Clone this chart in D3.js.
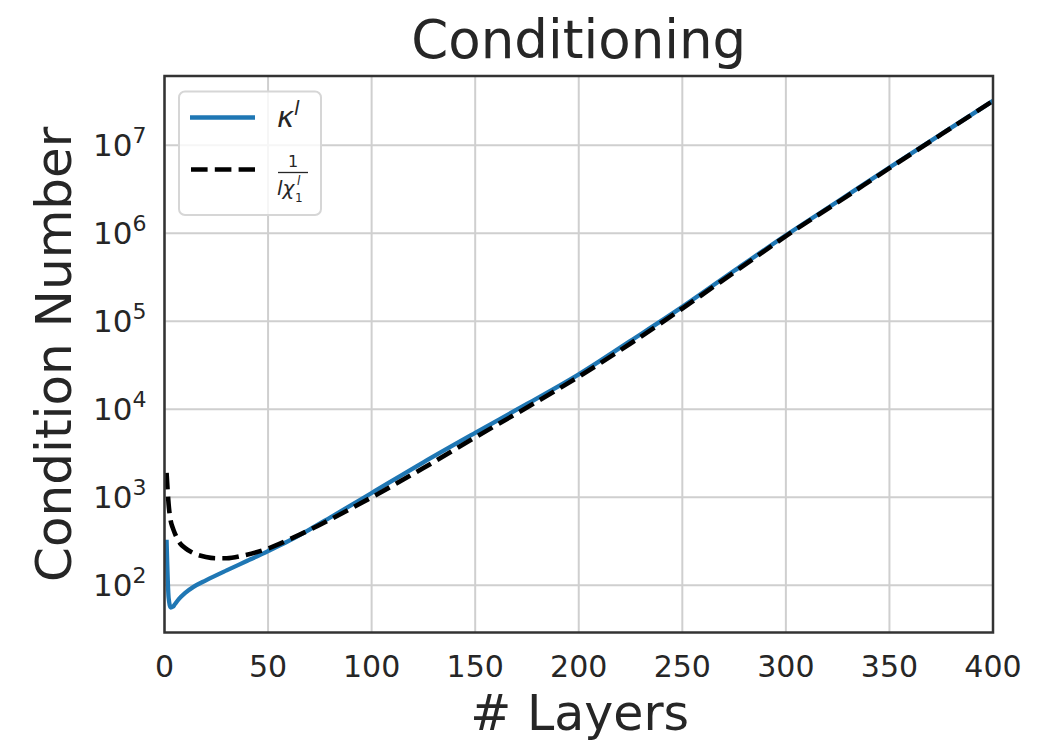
<!DOCTYPE html>
<html>
<head>
<meta charset="utf-8">
<script src="https://cdn.jsdelivr.net/npm/d3@7"></script>
<style>
  body { margin: 0; background: #fff; }
  text { font-family: 'DejaVu Sans', sans-serif; fill: #262626; }
</style>
</head>
<body>
<svg id="viz"></svg>
<script>
// values
const layersKappa = [1, 2, 3, 4, 5, 7, 10, 14, 20, 30, 40, 50, 60, 70, 80, 100, 125, 150, 175, 200, 225, 250, 275, 300, 325, 350, 375, 400];
const kappa = [330, 72, 56, 57, 61, 70, 82, 96, 114, 148, 190, 245, 320, 430, 590, 1120, 2500, 5400, 11500, 25000, 60000, 146000, 375000, 950000, 2.3e6, 5.6e6, 1.34e7, 3.2e7];
const layersChi = [1, 2, 3, 4, 5, 7.5, 10, 14, 20, 25, 30, 38, 50, 60, 70, 80, 100, 125, 150, 175, 200, 225, 250, 275, 300, 325, 350, 375, 400];
const chiInv = [1900, 830, 540, 450, 390, 300, 265, 232, 210, 203, 203, 218, 262, 330, 425, 560, 1000, 2150, 4800, 10500, 23500, 56000, 140000, 360000, 930000, 2.25e6, 5.5e6, 1.33e7, 3.2e7];
const xTicks = [0, 50, 100, 150, 200, 250, 300, 350, 400];
const yExponents = [2, 3, 4, 5, 6, 7];

const W = 1055, H = 743;
const margin = { left: 164.5, right: 62, top: 76, bottom: 110.5 };
const width = W - margin.left - margin.right;
const height = H - margin.top - margin.bottom;

const svg = d3.select('#viz').attr('width', W).attr('height', H);
const g = svg.append('g').attr('transform', 'translate(' + margin.left + ',' + margin.top + ')');

const x = d3.scaleLinear().domain([0, 400]).range([0, width]);
const y = d3.scaleLog().domain([Math.pow(10, 1.464), Math.pow(10, 7.788)]).range([height, 0]);

// grid
g.append('g')
  .selectAll('line')
  .data(xTicks)
  .join('line')
  .attr('x1', (d) => x(d)).attr('x2', (d) => x(d))
  .attr('y1', 0).attr('y2', height)
  .attr('stroke', '#cfcfcf').attr('stroke-width', 2);

g.append('g')
  .selectAll('line')
  .data(yExponents)
  .join('line')
  .attr('x1', 0).attr('x2', width)
  .attr('y1', (d) => y(Math.pow(10, d))).attr('y2', (d) => y(Math.pow(10, d)))
  .attr('stroke', '#cfcfcf').attr('stroke-width', 2);

// curves
svg.append('clipPath').attr('id', 'clip')
  .append('rect').attr('width', width).attr('height', height);

const line = d3.line()
  .x((d) => x(d[0]))
  .y((d) => y(d[1]))
  .curve(d3.curveMonotoneX);

const plot = g.append('g').attr('clip-path', 'url(#clip)');

plot.append('path')
  .datum(layersKappa.map((l, i) => [l, kappa[i]]))
  .attr('d', line)
  .attr('fill', 'none')
  .attr('stroke', '#1f77b4')
  .attr('stroke-width', 4.3);

plot.append('path')
  .datum(layersChi.map((l, i) => [l, chiInv[i]]))
  .attr('d', line)
  .attr('fill', 'none')
  .attr('stroke', '#000')
  .attr('stroke-width', 4.6)
  .attr('stroke-dasharray', '16.6,7.2');

// frame
g.append('rect')
  .attr('width', width).attr('height', height)
  .attr('fill', 'none')
  .attr('stroke', '#333')
  .attr('stroke-width', 2.5);

// tick labels
g.append('g')
  .selectAll('text')
  .data(xTicks)
  .join('text')
  .attr('x', (d) => x(d))
  .attr('y', height + 44.5)
  .attr('text-anchor', 'middle')
  .attr('font-size', 30)
  .text((d) => d);

const yl = g.append('g')
  .selectAll('text')
  .data(yExponents)
  .join('text')
  .attr('x', -18)
  .attr('y', (d) => y(Math.pow(10, d)) + 11)
  .attr('text-anchor', 'end')
  .attr('font-size', 31);
yl.append('tspan').text('10');
yl.append('tspan').attr('dy', -13).attr('font-size', 22).text((d) => d);

// axis titles
svg.append('text')
  .attr('x', margin.left + width / 2)
  .attr('y', 58)
  .attr('text-anchor', 'middle')
  .attr('font-size', 53)
  .text('Conditioning');

svg.append('text')
  .attr('x', margin.left + width / 2 + 1)
  .attr('y', 730)
  .attr('text-anchor', 'middle')
  .attr('font-size', 49)
  .text('# Layers');

svg.append('text')
  .attr('transform', 'translate(71,' + (margin.top + height / 2) + ') rotate(-90)')
  .attr('text-anchor', 'middle')
  .attr('font-size', 50)
  .text('Condition Number');

// legend
const lg = svg.append('g');
lg.append('rect')
  .attr('x', 179).attr('y', 91.5)
  .attr('width', 142).attr('height', 123.5)
  .attr('rx', 6)
  .attr('fill', 'rgba(255,255,255,0.8)')
  .attr('stroke', '#d6d6d6')
  .attr('stroke-width', 2);

lg.append('line')
  .attr('x1', 190).attr('x2', 255).attr('y1', 117.5).attr('y2', 117.5)
  .attr('stroke', '#1f77b4').attr('stroke-width', 4.3);
lg.append('line')
  .attr('x1', 191).attr('x2', 255).attr('y1', 169.5).attr('y2', 169.5)
  .attr('stroke', '#000').attr('stroke-width', 4.6)
  .attr('stroke-dasharray', '16.6,7.2');

const k = lg.append('text').attr('x', 277).attr('y', 127).attr('font-size', 29).attr('font-style', 'italic');
k.append('tspan').text('κ');
k.append('tspan').attr('dy', -12).attr('font-size', 20).text('l');

lg.append('text')
  .attr('x', 293).attr('y', 167)
  .attr('text-anchor', 'middle')
  .attr('font-size', 16)
  .text('1');
lg.append('line')
  .attr('x1', 278).attr('x2', 308).attr('y1', 172.5).attr('y2', 172.5)
  .attr('stroke', '#262626').attr('stroke-width', 1.3);
lg.append('text').attr('x', 277).attr('y', 195).attr('font-size', 20).attr('font-style', 'italic').text('lχ');
lg.append('text').attr('x', 295).attr('y', 202).attr('font-size', 12).text('1');
lg.append('text').attr('x', 297).attr('y', 185).attr('font-size', 12).attr('font-style', 'italic').text('l');
</script>
</body>
</html>
